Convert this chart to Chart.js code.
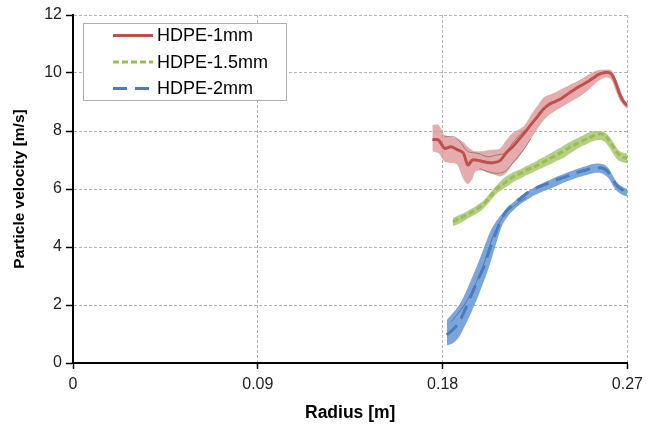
<!DOCTYPE html>
<html>
<head>
<meta charset="utf-8">
<script src="https://cdn.jsdelivr.net/npm/chart.js@4.4.1/dist/chart.umd.min.js"></script>
<style>
  html, body { margin: 0; padding: 0; background: #fff; }
  #wrap { width: 649px; height: 426px; }
</style>
</head>
<body>
<div id="wrap"><canvas id="velocityChart" width="649" height="426"></canvas></div>
<script>
const xTicks = [0, 0.09, 0.18, 0.27];
const yTicks = [0, 2, 4, 6, 8, 10, 12];

// HDPE-1mm
const redX = [0.175, 0.178, 0.181, 0.184, 0.187, 0.190, 0.1923, 0.1945, 0.196, 0.199, 0.202, 0.205, 0.208, 0.211, 0.214, 0.217, 0.220, 0.223, 0.226, 0.229, 0.232, 0.235, 0.238, 0.241, 0.244, 0.247, 0.250, 0.253, 0.256, 0.259, 0.262, 0.264, 0.266, 0.268, 0.270];
const redMean = [7.71, 7.69, 7.40, 7.46, 7.36, 7.25, 6.83, 7.00, 7.00, 6.96, 6.91, 6.91, 6.98, 7.25, 7.45, 7.70, 7.95, 8.22, 8.48, 8.75, 8.92, 9.02, 9.13, 9.28, 9.42, 9.55, 9.67, 9.81, 9.95, 10.02, 9.98, 9.72, 9.32, 9.02, 8.88];
const redHi = [8.21, 8.21, 7.86, 7.80, 7.75, 7.62, 7.45, 7.34, 7.30, 7.30, 7.34, 7.36, 7.40, 7.68, 7.92, 8.05, 8.20, 8.55, 8.85, 9.15, 9.25, 9.34, 9.45, 9.55, 9.66, 9.77, 9.90, 10.02, 10.10, 10.12, 10.10, 9.85, 9.50, 9.15, 8.95];
const redLo = [7.29, 7.23, 6.94, 6.90, 6.85, 6.35, 6.17, 6.35, 6.60, 6.64, 6.56, 6.50, 6.43, 6.55, 6.85, 7.08, 7.40, 7.72, 8.05, 8.35, 8.56, 8.70, 8.83, 8.95, 9.08, 9.20, 9.35, 9.55, 9.73, 9.84, 9.78, 9.45, 9.10, 8.90, 8.75];
// thin single-run traces seen inside the red band
const redRunAX = [0.1810, 0.1858, 0.1891, 0.1923, 0.1972, 0.2020, 0.2061, 0.2102, 0.2134, 0.2166, 0.2199];
const redRunA = [7.80, 7.80, 7.57, 7.29, 7.23, 7.11, 7.17, 7.23, 7.52, 7.80, 8.03];
const redRunBX = [0.1980, 0.2020, 0.2061, 0.2102, 0.2134, 0.2166, 0.2199, 0.2231];
const redRunB = [6.71, 6.60, 6.54, 6.60, 6.83, 7.11, 7.40, 7.75];

// HDPE-1.5mm
const greenX = [0.185, 0.188, 0.191, 0.194, 0.197, 0.200, 0.203, 0.206, 0.209, 0.212, 0.215, 0.218, 0.221, 0.224, 0.227, 0.230, 0.233, 0.236, 0.239, 0.242, 0.245, 0.248, 0.251, 0.254, 0.257, 0.259, 0.261, 0.263, 0.265, 0.267, 0.270];
const greenMean = [4.87, 4.97, 5.08, 5.20, 5.32, 5.48, 5.72, 5.98, 6.15, 6.30, 6.45, 6.55, 6.66, 6.74, 6.85, 6.97, 7.08, 7.19, 7.32, 7.44, 7.55, 7.66, 7.75, 7.85, 7.90, 7.87, 7.67, 7.46, 7.25, 7.12, 7.05];
const greenHi = [5.00, 5.10, 5.20, 5.32, 5.45, 5.60, 5.85, 6.10, 6.33, 6.48, 6.60, 6.68, 6.80, 6.90, 7.03, 7.13, 7.25, 7.37, 7.50, 7.62, 7.73, 7.84, 7.95, 8.00, 7.99, 7.95, 7.82, 7.62, 7.40, 7.28, 7.22];
const greenLo = [4.72, 4.80, 4.92, 5.05, 5.16, 5.33, 5.57, 5.82, 5.98, 6.12, 6.27, 6.36, 6.48, 6.58, 6.68, 6.78, 6.87, 6.98, 7.08, 7.22, 7.36, 7.48, 7.58, 7.66, 7.69, 7.62, 7.45, 7.22, 7.02, 6.94, 6.89];

// HDPE-2mm
const blueX = [0.182, 0.185, 0.188, 0.191, 0.194, 0.197, 0.200, 0.203, 0.206, 0.209, 0.212, 0.215, 0.218, 0.221, 0.224, 0.227, 0.230, 0.233, 0.236, 0.239, 0.242, 0.245, 0.248, 0.251, 0.254, 0.257, 0.259, 0.261, 0.263, 0.265, 0.267, 0.270];
const blueMean = [0.97, 1.15, 1.40, 1.85, 2.35, 2.85, 3.30, 3.95, 4.50, 5.02, 5.32, 5.52, 5.68, 5.85, 5.97, 6.08, 6.16, 6.24, 6.33, 6.40, 6.48, 6.56, 6.62, 6.68, 6.73, 6.73, 6.68, 6.55, 6.32, 6.10, 6.00, 5.87];
const blueHi = [1.48, 1.72, 2.00, 2.40, 2.90, 3.40, 3.95, 4.50, 4.88, 5.15, 5.40, 5.58, 5.75, 5.90, 6.03, 6.15, 6.25, 6.34, 6.44, 6.52, 6.60, 6.68, 6.75, 6.82, 6.87, 6.87, 6.83, 6.70, 6.45, 6.22, 6.10, 5.99];
const blueLo = [0.60, 0.68, 0.90, 1.30, 1.75, 2.25, 2.80, 3.40, 4.10, 4.75, 5.08, 5.30, 5.48, 5.62, 5.76, 5.86, 5.95, 6.03, 6.12, 6.22, 6.30, 6.38, 6.44, 6.50, 6.55, 6.55, 6.48, 6.35, 6.10, 5.92, 5.82, 5.74];
const blueRunX = [0.1842, 0.1899, 0.1947, 0.1996, 0.2045, 0.2094, 0.2142, 0.2207];
const blueRun = [1.42, 1.94, 2.52, 3.32, 4.36, 5.04, 5.39, 5.70];

const pts = (xs, ys) => xs.map((x, i) => ({x: x, y: ys[i]}));
const FONT = '"Liberation Sans", Arial, sans-serif';

const series = [
  {label: 'HDPE-1mm', x: redX, mean: redMean, hi: redHi, lo: redLo, line: '#C0504D', band: 'rgba(218,140,140,0.72)', dash: []},
  {label: 'HDPE-1.5mm', x: greenX, mean: greenMean, hi: greenHi, lo: greenLo, line: '#9BBB59', band: 'rgba(160,196,100,0.8)', dash: [6, 3]},
  {label: 'HDPE-2mm', x: blueX, mean: blueMean, hi: blueHi, lo: blueLo, line: '#4A7EBB', band: 'rgba(100,150,215,0.85)', dash: [14, 8]}
];

const datasets = [];
series.forEach(s => {
  datasets.push({data: pts(s.x, s.hi), borderWidth: 0, pointRadius: 0, fill: '+1', backgroundColor: s.band, tension: 0.3, order: 3});
  datasets.push({data: pts(s.x, s.lo), borderWidth: 0, pointRadius: 0, fill: false, tension: 0.3, order: 3});
  datasets.push({label: s.label, data: pts(s.x, s.mean), borderColor: s.line, borderWidth: 3, borderDash: s.dash, pointRadius: 0, fill: false, tension: 0.3, order: 1});
});
const runStyle = {borderColor: 'rgba(70,55,55,0.55)', borderWidth: 0.8, pointRadius: 0, fill: false, tension: 0.3, order: 2};
datasets.push(Object.assign({data: pts(redRunAX, redRunA)}, runStyle));
datasets.push(Object.assign({data: pts(redRunBX, redRunB)}, runStyle));
datasets.push(Object.assign({data: pts(blueRunX, blueRun)}, runStyle, {borderColor: 'rgba(40,60,100,0.55)'}));

// legend drawn inside the plot area, like the original
const legendBox = {
  id: 'legendBox',
  afterDraw(chart) {
    const ctx = chart.ctx;
    ctx.save();
    ctx.fillStyle = '#fff';
    ctx.strokeStyle = '#b0b0b0';
    ctx.lineWidth = 1;
    ctx.fillRect(83, 23, 203, 77);
    ctx.strokeRect(83.5, 23.5, 203, 77);
    ctx.font = '18px ' + FONT;
    ctx.textBaseline = 'middle';
    series.forEach((s, i) => {
      const y = 35.5 + i * 26.5;
      ctx.strokeStyle = s.line;
      ctx.lineWidth = 3;
      ctx.setLineDash(s.dash);
      ctx.beginPath();
      ctx.moveTo(113, y);
      ctx.lineTo(153, y);
      ctx.stroke();
      ctx.setLineDash([]);
      ctx.fillStyle = '#000';
      ctx.fillText(s.label, 157, y + 1);
    });
    ctx.restore();
  }
};

const velocityOptions = {
  responsive: false,
  animation: false,
  layout: {padding: {left: 0, right: 21, top: 15, bottom: 0}},
  scales: {
    x: {
      type: 'linear',
      min: 0,
      max: 0.27,
      afterBuildTicks: (scale) => { scale.ticks = xTicks.map(v => ({value: v})); },
      afterFit: (scale) => { scale.height = 63; },
      ticks: {color: '#222', font: {size: 16, family: FONT}, padding: 6},
      grid: {color: '#b4b4b4', tickColor: '#000', tickLength: 6, tickWidth: 1.5},
      border: {color: '#000', width: 2, dash: [3, 2]},
      title: {display: true, text: 'Radius [m]', color: '#000', font: {size: 17.5, weight: 'bold', family: FONT}, padding: {top: 0, bottom: 2}}
    },
    y: {
      min: 0,
      max: 12,
      afterBuildTicks: (scale) => { scale.ticks = yTicks.map(v => ({value: v})); },
      afterFit: (scale) => { scale.width = 73; },
      ticks: {color: '#222', font: {size: 16, family: FONT}, padding: 4},
      grid: {color: '#b4b4b4', tickColor: '#000', tickLength: 7, tickWidth: 1.5},
      border: {color: '#000', width: 2, dash: [3, 2]},
      title: {display: true, text: 'Particle velocity [m/s]', color: '#000', font: {size: 15.5, weight: 'bold', family: FONT}, padding: 10}
    }
  },
  plugins: {
    legend: {display: false},
    tooltip: {enabled: false}
  }
};

new Chart(document.getElementById('velocityChart'), {type: 'line', data: {datasets: datasets}, options: velocityOptions, plugins: [legendBox]});
</script>
</body>
</html>
